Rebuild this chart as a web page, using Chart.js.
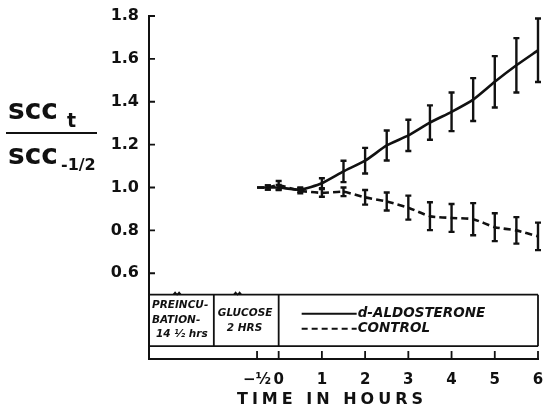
<!DOCTYPE html>
<html>
<head>
<meta charset="utf-8">
<script src="https://cdn.jsdelivr.net/npm/chart.js@4.4.0/dist/chart.umd.min.js"></script>
<style>
  html, body { margin: 0; padding: 0; background: #fff; }
  #c { display: block; }
</style>
</head>
<body>
<canvas id="c" width="557" height="411"></canvas>
<script>
// data
const hours = [-0.5, -0.25, 0, 0.5, 1, 1.5, 2, 2.5, 3, 3.5, 4, 4.5, 5, 5.5, 6];
const aldo = [1.00, 1.00, 1.00, 0.99, 1.02, 1.075, 1.125, 1.196, 1.243, 1.303, 1.353, 1.41, 1.493, 1.57, 1.64];
const aldoErr = [0, 0.01, 0.012, 0.01, 0.023, 0.05, 0.06, 0.07, 0.073, 0.08, 0.09, 0.10, 0.12, 0.127, 0.148];
const ctrl = [1.00, 1.00, 1.01, 0.985, 0.975, 0.98, 0.954, 0.935, 0.906, 0.866, 0.858, 0.852, 0.815, 0.80, 0.772];
const ctrlErr = [0, 0.01, 0.02, 0.012, 0.018, 0.02, 0.034, 0.042, 0.056, 0.065, 0.065, 0.075, 0.065, 0.062, 0.064];

const xTicks = [-0.5, 0, 1, 2, 3, 4, 5, 6];
const xTickLabels = ["\u2212\u00bd", "0", "1", "2", "3", "4", "5", "6"];
const yTicks = [0.6, 0.8, 1.0, 1.2, 1.4, 1.6, 1.8];

const ink = "#111";
const font = "'DejaVu Sans', sans-serif";

// error bars, drawn through the scales
const errorBars = {
  id: "errorBars",
  afterDatasetsDraw(chart) {
    const c = chart.ctx, xs = chart.scales.x, ys = chart.scales.y;
    c.save();
    c.strokeStyle = ink;
    c.lineWidth = 2.4;
    chart.data.datasets.forEach((ds) => {
      ds.data.forEach((p, i) => {
        const e = ds.err[i];
        if (!e) return;
        const x = xs.getPixelForValue(p.x);
        const y1 = ys.getPixelForValue(p.y - e);
        const y2 = ys.getPixelForValue(p.y + e);
        c.beginPath();
        c.moveTo(x, y1); c.lineTo(x, y2);
        c.moveTo(x - 3, y1); c.lineTo(x + 3, y1);
        c.moveTo(x - 3, y2); c.lineTo(x + 3, y2);
        c.stroke();
      });
    });
    c.restore();
  }
};

// box with the protocol notes + legend, inward ticks, axis titles
const decor = {
  id: "decor",
  afterDraw(chart) {
    const c = chart.ctx, xs = chart.scales.x, ys = chart.scales.y;
    const X = (v) => xs.getPixelForValue(v);
    const Y = (v) => ys.getPixelForValue(v);
    const left = chart.chartArea.left, bottom = chart.chartArea.bottom;
    c.save();
    c.strokeStyle = ink;
    c.fillStyle = ink;
    c.lineWidth = 1.8;

    // inward ticks
    c.beginPath();
    yTicks.forEach((v) => { c.moveTo(left, Y(v)); c.lineTo(left + 6, Y(v)); });
    xTicks.forEach((v) => { c.moveTo(X(v), bottom); c.lineTo(X(v), bottom - 8); });
    c.stroke();

    // box
    const top = Y(0.5), bot = Y(0.26);
    c.beginPath();
    c.moveTo(left, top); c.lineTo(X(6), top);
    c.moveTo(left, bot); c.lineTo(X(6), bot);
    c.moveTo(X(-1.5), top); c.lineTo(X(-1.5), bot);
    c.moveTo(X(0), top); c.lineTo(X(0), bot);
    c.moveTo(X(6), top); c.lineTo(X(6), bot);
    c.stroke();

    // little break marks on top line
    c.lineWidth = 1.2;
    [-2.35, -0.95].forEach((v) => {
      const x0 = X(v);
      c.beginPath();
      c.moveTo(x0 - 4, top);
      c.lineTo(x0 - 2, top - 2.5);
      c.lineTo(x0, top);
      c.lineTo(x0 + 2, top - 2.5);
      c.lineTo(x0 + 4, top);
      c.stroke();
    });

    // box text
    c.textBaseline = "middle";
    c.textAlign = "left";
    c.font = "italic bold 10.5px " + font;
    c.fillText("PREINCU-", X(-3) + 3, top + 11);
    c.fillText("BATION-", X(-3) + 3, top + 26);
    c.fillText("14 \u00bd hrs", X(-3) + 7, top + 40);
    c.font = "italic bold 10.5px " + font;
    c.fillText("GLUCOSE", X(-1.5) + 4, top + 19);
    c.fillText("2 HRS", X(-1.5) + 13, top + 34);

    // legend
    const lx0 = X(0) + 23, lx1 = X(0) + 78;
    c.lineWidth = 2;
    c.beginPath(); c.moveTo(lx0, top + 19); c.lineTo(lx1, top + 19); c.stroke();
    c.setLineDash([6, 4]);
    c.beginPath(); c.moveTo(lx0, top + 34); c.lineTo(lx1, top + 34); c.stroke();
    c.setLineDash([]);
    c.font = "italic bold 13.5px " + font;
    c.fillText("d-ALDOSTERONE", lx1 + 1, top + 19);
    c.fillText("CONTROL", lx1 + 1, top + 34);

    // x title
    c.textAlign = "center";
    c.font = "bold 16px " + font;
    c.letterSpacing = "4px";
    c.fillText("TIME IN HOURS", 332, 400);
    c.letterSpacing = "0px";

    // y title (fraction)
    c.textAlign = "left";
    c.textBaseline = "alphabetic";
    c.font = "bold 28px " + font;
    c.fillText("scc", 8, 119);
    c.fillText("scc", 8, 164);
    c.font = "bold 19px " + font;
    c.fillText("t", 67, 127);
    c.font = "bold 16px " + font;
    c.fillText("-1/2", 61, 170);
    c.lineWidth = 2;
    c.beginPath(); c.moveTo(6, 133); c.lineTo(97, 133); c.stroke();

    c.restore();
  }
};

new Chart(document.getElementById("c"), {
  type: "line",
  data: {
    datasets: [
      {
        label: "d-ALDOSTERONE",
        data: hours.map((h, i) => ({ x: h, y: aldo[i] })),
        err: aldoErr,
        borderColor: ink,
        borderWidth: 2.6,
        pointRadius: 0,
        tension: 0.2,
      },
      {
        label: "CONTROL",
        data: hours.map((h, i) => ({ x: h, y: ctrl[i] })),
        err: ctrlErr,
        borderColor: ink,
        borderWidth: 2.6,
        borderDash: [7, 4],
        pointRadius: 0,
        tension: 0.2,
      },
    ],
  },
  options: {
    responsive: false,
    animation: false,
    layout: { padding: { left: 0, right: 19, top: 16, bottom: 0 } },
    plugins: { legend: { display: false }, tooltip: { enabled: false } },
    scales: {
      x: {
        type: "linear",
        min: -3,
        max: 6,
        afterBuildTicks: (s) => { s.ticks = xTicks.map((v) => ({ value: v })); },
        afterFit: (s) => { s.height = 52; },
        grid: { display: false },
        border: { display: true, color: ink, width: 2 },
        ticks: {
          padding: 4,
          color: ink,
          font: { family: font, size: 15, weight: "bold" },
          callback: (v) => xTickLabels[xTicks.indexOf(v)],
          maxRotation: 0,
          autoSkip: false,
        },
      },
      y: {
        min: 0.2,
        max: 1.8,
        afterBuildTicks: (s) => { s.ticks = yTicks.map((v) => ({ value: v })); },
        afterFit: (s) => { s.width = 149; },
        grid: { display: false },
        border: { display: true, color: ink, width: 2 },
        ticks: {
          padding: 2,
          color: ink,
          font: { family: font, size: 16, weight: "bold" },
          callback: (v) => v.toFixed(1),
        },
      },
    },
  },
  plugins: [errorBars, decor],
});
</script>
</body>
</html>
